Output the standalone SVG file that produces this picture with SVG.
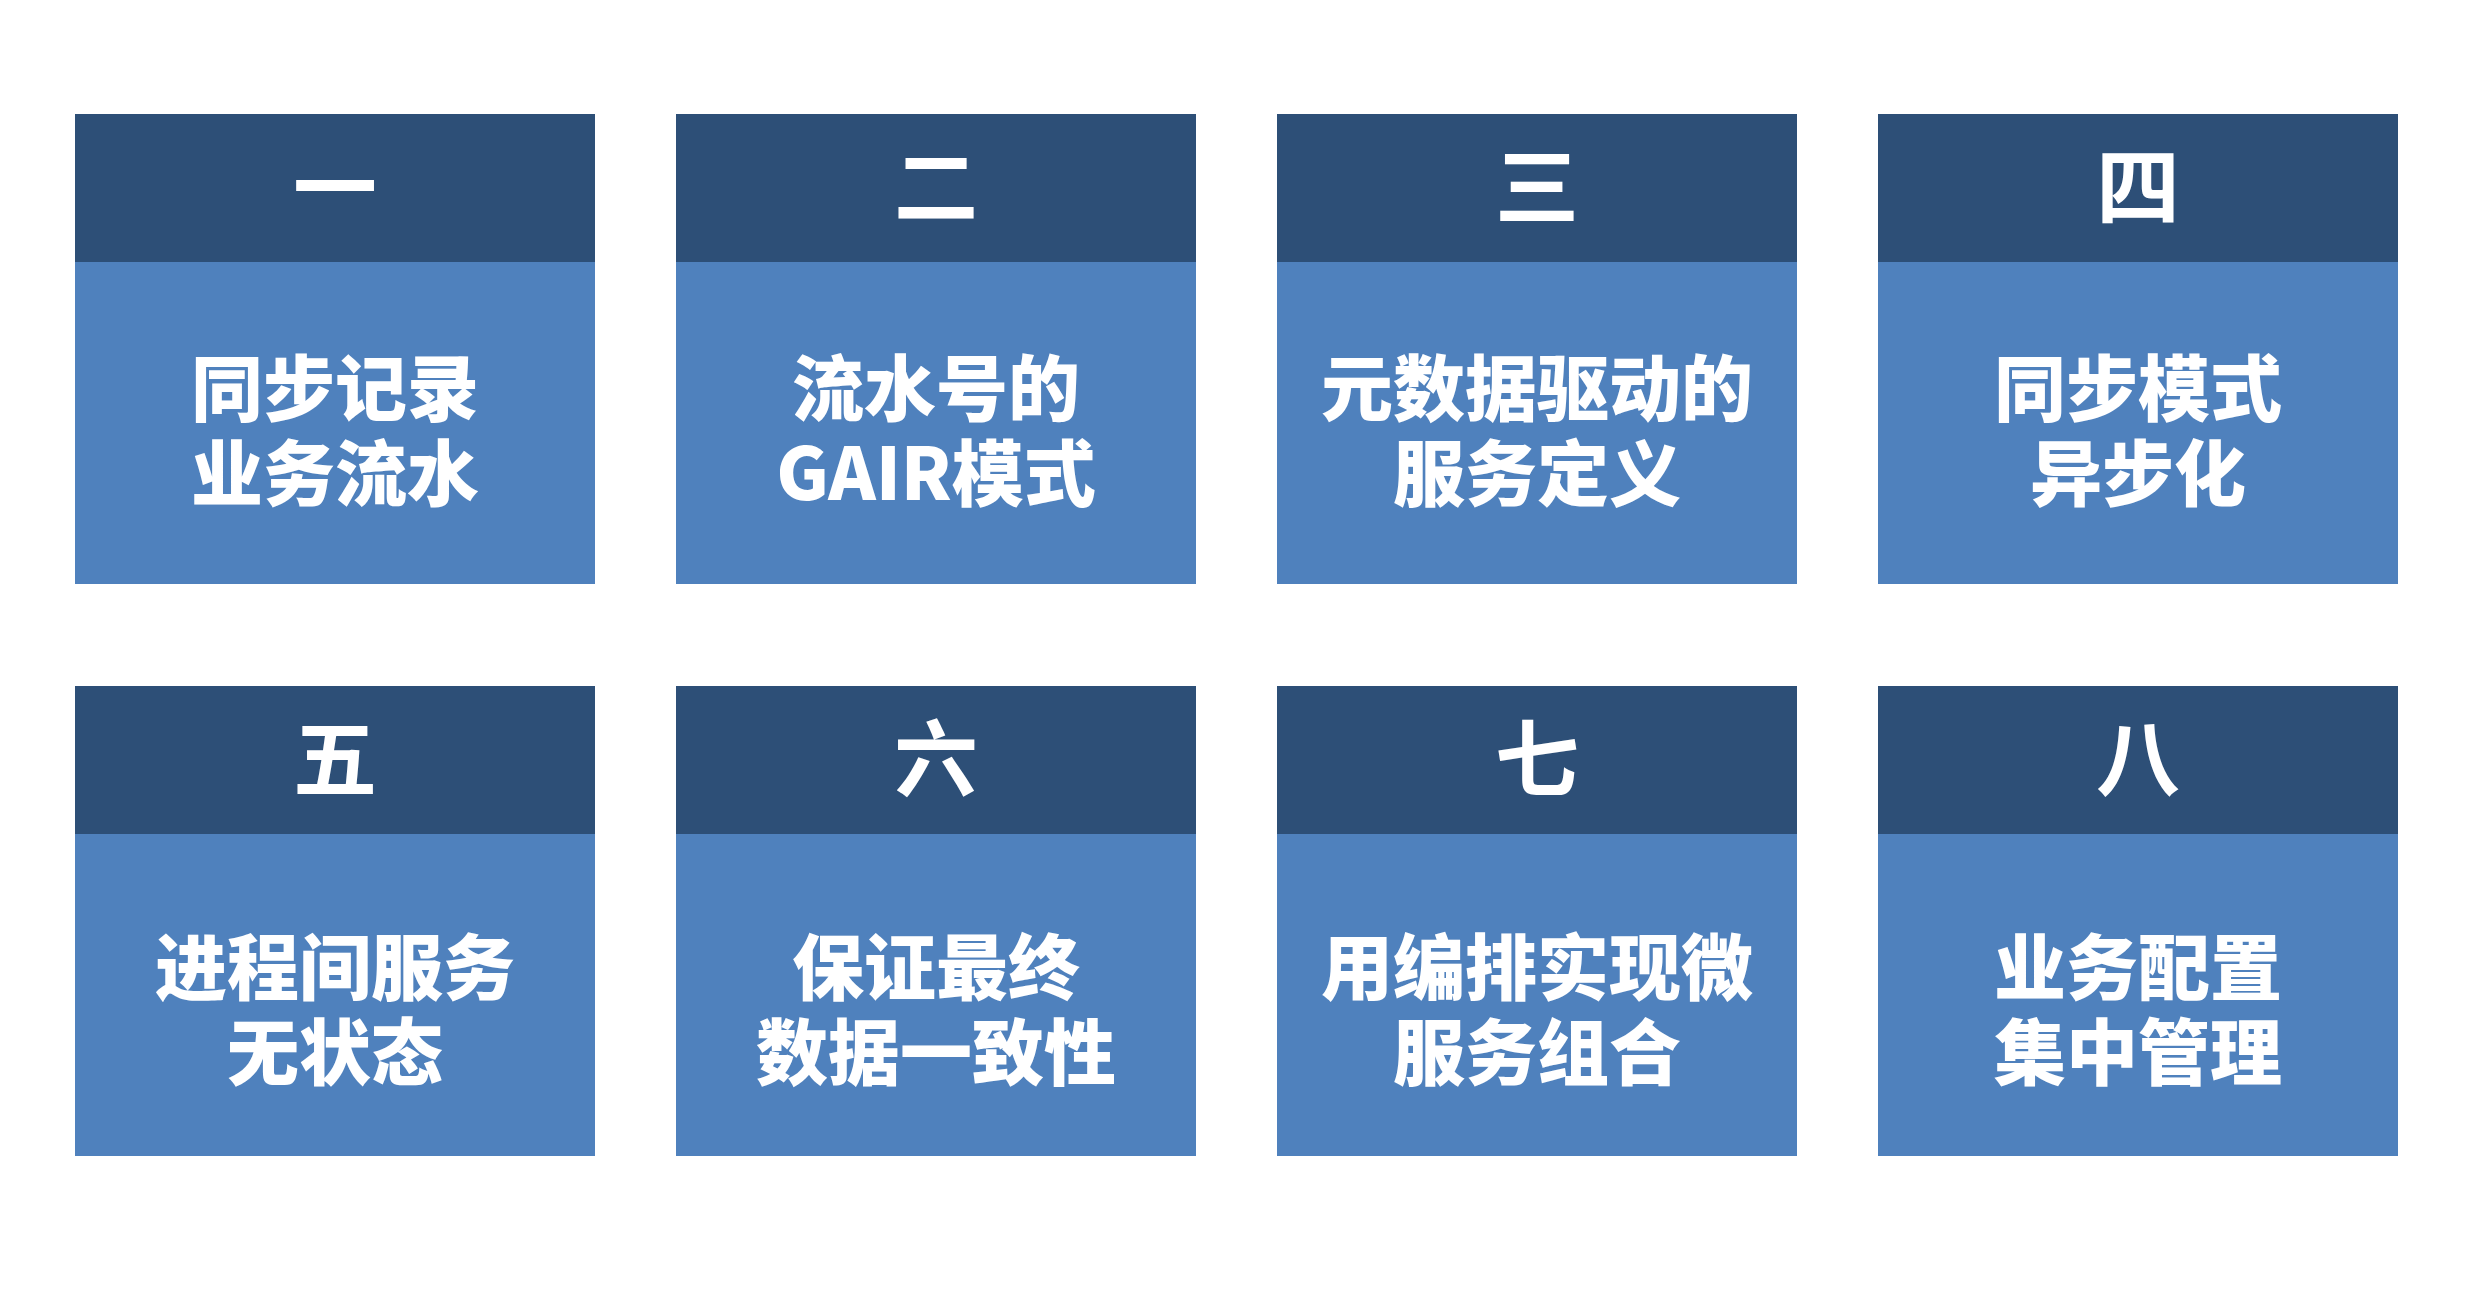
<svg xmlns="http://www.w3.org/2000/svg" width="2468" height="1298" viewBox="0 0 2468 1298">
<style>
.hd{fill:#2D4F77}
.bd{fill:#4F81BD}
.num{font-family:"Noto Sans CJK SC","Noto Sans CJK TC",sans-serif;font-weight:700;font-size:84px;fill:#FFFFFF;text-anchor:middle}
.lbl{font-family:"Noto Sans CJK SC","Noto Sans CJK TC",sans-serif;font-weight:900;font-size:72px;fill:#FFFFFF;text-anchor:middle}
</style>
<rect width="2468" height="1298" fill="#FFFFFF"/>
<g id="node1">
<rect class="bd" x="75" y="114" width="520" height="470"/>
<rect class="hd" x="75" y="114" width="520" height="148"/>
<text class="num" x="335" y="218">一</text>
<text class="lbl" x="335" y="415">同步记录</text>
<text class="lbl" x="335" y="500">业务流水</text>
</g>
<g id="node2">
<rect class="bd" x="676" y="114" width="520" height="470"/>
<rect class="hd" x="676" y="114" width="520" height="148"/>
<text class="num" x="936" y="218">二</text>
<text class="lbl" x="936" y="415">流水号的</text>
<text class="lbl" x="936" y="500">GAIR模式</text>
</g>
<g id="node3">
<rect class="bd" x="1277" y="114" width="520" height="470"/>
<rect class="hd" x="1277" y="114" width="520" height="148"/>
<text class="num" x="1537" y="218">三</text>
<text class="lbl" x="1537" y="415">元数据驱动的</text>
<text class="lbl" x="1537" y="500">服务定义</text>
</g>
<g id="node4">
<rect class="bd" x="1878" y="114" width="520" height="470"/>
<rect class="hd" x="1878" y="114" width="520" height="148"/>
<text class="num" x="2138" y="218">四</text>
<text class="lbl" x="2138" y="415">同步模式</text>
<text class="lbl" x="2138" y="500">异步化</text>
</g>
<g id="node5">
<rect class="bd" x="75" y="686" width="520" height="470"/>
<rect class="hd" x="75" y="686" width="520" height="148"/>
<text class="num" x="335" y="790">五</text>
<text class="lbl" x="335" y="994">进程间服务</text>
<text class="lbl" x="335" y="1079">无状态</text>
</g>
<g id="node6">
<rect class="bd" x="676" y="686" width="520" height="470"/>
<rect class="hd" x="676" y="686" width="520" height="148"/>
<text class="num" x="936" y="790">六</text>
<text class="lbl" x="936" y="994">保证最终</text>
<text class="lbl" x="936" y="1079">数据一致性</text>
</g>
<g id="node7">
<rect class="bd" x="1277" y="686" width="520" height="470"/>
<rect class="hd" x="1277" y="686" width="520" height="148"/>
<text class="num" x="1537" y="790">七</text>
<text class="lbl" x="1537" y="994">用编排实现微</text>
<text class="lbl" x="1537" y="1079">服务组合</text>
</g>
<g id="node8">
<rect class="bd" x="1878" y="686" width="520" height="470"/>
<rect class="hd" x="1878" y="686" width="520" height="148"/>
<text class="num" x="2138" y="790">八</text>
<text class="lbl" x="2138" y="994">业务配置</text>
<text class="lbl" x="2138" y="1079">集中管理</text>
</g>
<g id="connectors"/>
</svg>
